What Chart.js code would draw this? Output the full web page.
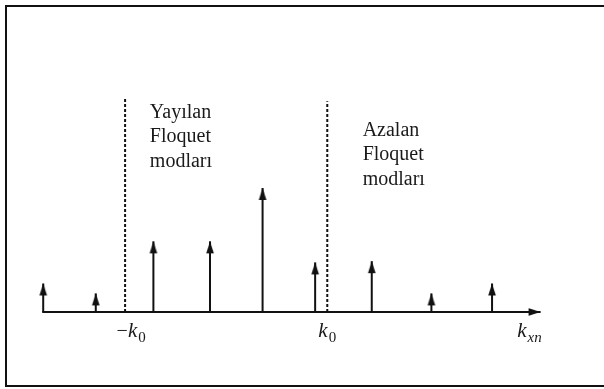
<!DOCTYPE html>
<html>
<head>
<meta charset="utf-8">
<script src="https://cdn.jsdelivr.net/npm/chart.js@4/dist/chart.umd.min.js"></script>
<style>
  html, body { margin: 0; padding: 0; background: #fff; overflow: hidden; }
  #frame { position: absolute; left: 5px; top: 5px; width: 700px; height: 378px; border: 2px solid #111; }
  #c { position: absolute; left: 0; top: 0; }
</style>
</head>
<body>
<div id="frame"></div>
<canvas id="c" width="604" height="389"></canvas>
<script>
// Floquet mode spectrum: stems at k_xn, cutoffs at -k0 and k0 (x in units of k0)
const kPositions = [-1.81, -1.29, -0.72, -0.16, 0.36, 0.88, 1.44, 2.03, 2.63];
const amplitudes = [0.23, 0.15, 0.57, 0.57, 1.0, 0.40, 0.41, 0.15, 0.23];
const cutoffs = [-1, 1];
const cutoffTops = [1.73, 1.70];
const axisRange = [-1.82, 3.11];

const tickValues = [-0.94, 1.0, 3.0];
const tickPrefix = ["\u2212", "", ""];
const tickSub = ["0", "0", "xn"];

const regionLines = [["Yayılan", "Floquet", "modları"], ["Azalan", "Floquet", "modları"]];
const regionX = [-0.755, 1.35];
const regionY = [1.565, 1.42];

const ink = "#111";

// arrow head as a point image: tip sits at the image centre
function arrowHead() {
  const cv = document.createElement("canvas");
  cv.width = 10; cv.height = 26;
  const g = cv.getContext("2d");
  g.fillStyle = ink;
  g.beginPath();
  g.moveTo(5, 13); g.lineTo(8.8, 25); g.lineTo(1.2, 25);
  g.closePath(); g.fill();
  return cv;
}
const head = arrowHead();

const datasets = [];
// horizontal k axis with arrow at right end
datasets.push({
  data: [{ x: axisRange[0], y: 0 }, { x: axisRange[1], y: 0 }],
  showLine: true, borderColor: ink, borderWidth: 2,
  pointStyle: [false, head], pointRadius: [0, 1], pointRotation: [0, 90], clip: false
});
// dashed cutoff lines
cutoffs.forEach((c, i) => datasets.push({
  data: [{ x: c, y: 0 }, { x: c, y: cutoffTops[i] }],
  showLine: true, borderColor: ink, borderWidth: 2, borderDash: [3, 2],
  pointRadius: 0, clip: false
}));
// mode stems
kPositions.forEach((k, i) => datasets.push({
  data: [{ x: k, y: 0 }, { x: k, y: amplitudes[i] }],
  showLine: true, borderColor: ink, borderWidth: 2,
  pointStyle: [false, head], pointRadius: [0, 1], clip: false
}));

const labelPlugin = {
  id: "labels",
  afterDatasetsDraw(chart) {
    const ctx = chart.ctx, xs = chart.scales.x, ys = chart.scales.y;
    ctx.save();
    ctx.fillStyle = "#1a1a1a";
    ctx.textBaseline = "alphabetic";
    ctx.textAlign = "left";
    // region captions
    ctx.font = "20px 'Liberation Serif', serif";
    regionLines.forEach((lines, i) => {
      const x = xs.getPixelForValue(regionX[i]);
      const y = ys.getPixelForValue(regionY[i]);
      lines.forEach((t, j) => ctx.fillText(t, x, y + j * 24.5));
    });
    // k labels under the axis
    const base = ys.getPixelForValue(0) + 25;
    tickValues.forEach((v, i) => {
      const fPre = "20px 'Liberation Serif', serif";
      const fK = "italic 21px 'Liberation Serif', serif";
      const fSub = (tickSub[i] === "0" ? "" : "italic ") + "15px 'Liberation Serif', serif";
      ctx.font = fPre; const wPre = ctx.measureText(tickPrefix[i]).width;
      ctx.font = fK; const wK = ctx.measureText("k").width;
      ctx.font = fSub; const wSub = ctx.measureText(tickSub[i]).width;
      let x = xs.getPixelForValue(v) - (wPre + wK + wSub + 1) / 2;
      ctx.font = fPre; ctx.fillText(tickPrefix[i], x, base); x += wPre;
      ctx.font = fK; ctx.fillText("k", x, base); x += wK + 1;
      ctx.font = fSub; ctx.fillText(tickSub[i], x, base + 5);
    });
    ctx.restore();
  }
};

new Chart(document.getElementById("c"), {
  type: "scatter",
  data: { datasets },
  options: {
    responsive: false, animation: false, events: [],
    layout: { padding: { left: 24, right: 24, top: 64, bottom: 77 } },
    plugins: { legend: { display: false }, tooltip: { enabled: false } },
    scales: {
      x: { type: "linear", min: -2, max: 3.5, display: false },
      y: { type: "linear", min: 0, max: 2, display: false }
    }
  },
  plugins: [labelPlugin]
});
</script>
</body>
</html>
